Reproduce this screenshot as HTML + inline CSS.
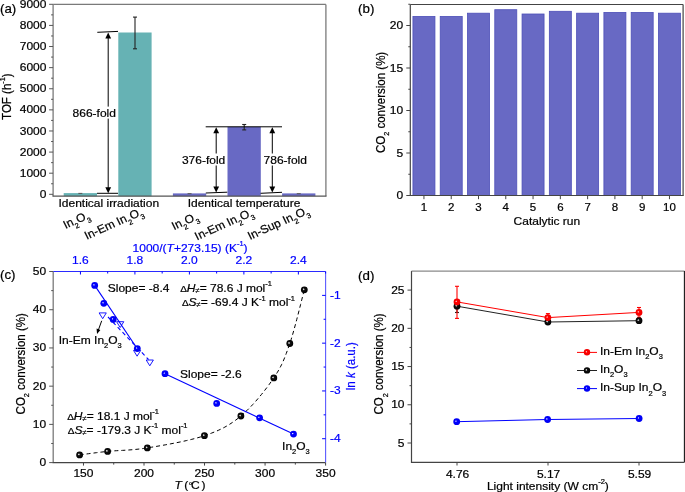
<!DOCTYPE html><html><head><meta charset="utf-8"><style>html,body{margin:0;padding:0;background:#fff;}svg{display:block;filter:blur(0.35px);}text{font-family:"Liberation Sans",sans-serif;}</style></head><body>
<svg width="685" height="492" viewBox="0 0 685 492">
<defs>
<radialGradient id="gk" cx="0.5" cy="0.5" r="0.5" fx="0.36" fy="0.4"><stop offset="0" stop-color="#ffffff"/><stop offset="0.14" stop-color="#bbbbbb"/><stop offset="0.36" stop-color="#111"/><stop offset="1" stop-color="#000"/></radialGradient>
<radialGradient id="gb" cx="0.5" cy="0.5" r="0.5" fx="0.36" fy="0.4"><stop offset="0" stop-color="#f0f0ff"/><stop offset="0.12" stop-color="#a0a0ff"/><stop offset="0.32" stop-color="#0000ff"/><stop offset="1" stop-color="#0000f0"/></radialGradient>
<radialGradient id="gr" cx="0.5" cy="0.5" r="0.5" fx="0.36" fy="0.4"><stop offset="0" stop-color="#fff0f0"/><stop offset="0.12" stop-color="#ffa0a0"/><stop offset="0.32" stop-color="#ff0000"/><stop offset="1" stop-color="#f00000"/></radialGradient>
</defs>
<rect x="0" y="0" width="685" height="492" fill="#fff"/>
<rect x="63.70" y="193.10" width="33.30" height="3.10" fill="#66b2b4" />
<rect x="118.30" y="32.50" width="33.30" height="163.70" fill="#66b2b4" />
<rect x="172.90" y="193.40" width="33.30" height="2.80" fill="#6869c4" />
<rect x="227.50" y="126.80" width="33.30" height="69.40" fill="#6869c4" />
<rect x="282.10" y="193.40" width="33.30" height="2.80" fill="#6869c4" />
<line x1="78.35" y1="193.40" x2="82.35" y2="193.40" stroke="#555" stroke-width="1" />
<line x1="187.55" y1="193.70" x2="191.55" y2="193.70" stroke="#555" stroke-width="1" />
<line x1="296.75" y1="193.70" x2="300.75" y2="193.70" stroke="#555" stroke-width="1" />
<line x1="135.00" y1="17.10" x2="135.00" y2="48.80" stroke="#222" stroke-width="1.1" />
<line x1="133.00" y1="17.10" x2="137.00" y2="17.10" stroke="#222" stroke-width="1.1" />
<line x1="133.00" y1="48.80" x2="137.00" y2="48.80" stroke="#222" stroke-width="1.1" />
<line x1="244.20" y1="124.50" x2="244.20" y2="129.90" stroke="#222" stroke-width="1.1" />
<line x1="242.20" y1="124.50" x2="246.20" y2="124.50" stroke="#222" stroke-width="1.1" />
<line x1="242.20" y1="129.90" x2="246.20" y2="129.90" stroke="#222" stroke-width="1.1" />
<line x1="97.00" y1="193.30" x2="118.00" y2="193.30" stroke="#000" stroke-width="1" />
<line x1="97.30" y1="32.30" x2="118.00" y2="31.40" stroke="#000" stroke-width="1" />
<line x1="205.80" y1="193.00" x2="227.30" y2="192.20" stroke="#000" stroke-width="1" />
<line x1="260.60" y1="193.30" x2="282.00" y2="192.30" stroke="#000" stroke-width="1" />
<line x1="205.70" y1="126.80" x2="282.00" y2="126.80" stroke="#000" stroke-width="1" />
<line x1="108.20" y1="37.40" x2="108.20" y2="188.20" stroke="#000" stroke-width="1" />
<path d="M108.20,32.40 L105.30,38.40 L111.10,38.40 Z" fill="#000"/>
<path d="M108.20,193.20 L105.30,187.20 L111.10,187.20 Z" fill="#000"/>
<line x1="216.20" y1="132.20" x2="216.20" y2="187.40" stroke="#000" stroke-width="1" />
<path d="M216.20,127.20 L213.30,133.20 L219.10,133.20 Z" fill="#000"/>
<path d="M216.20,192.40 L213.30,186.40 L219.10,186.40 Z" fill="#000"/>
<line x1="272.30" y1="132.20" x2="272.30" y2="187.40" stroke="#000" stroke-width="1" />
<path d="M272.30,127.20 L269.40,133.20 L275.20,133.20 Z" fill="#000"/>
<path d="M272.30,192.40 L269.40,186.40 L275.20,186.40 Z" fill="#000"/>
<rect x="71.60" y="106.60" width="45.36" height="12.00" fill="#fff" />
<g transform="matrix(1 0 0 0.96 0 4.672)"><text stroke="#000" stroke-width="0.22" x="72.60" y="116.80" font-size="12" text-anchor="start" fill="#000" >866-fold</text></g>
<rect x="180.90" y="153.50" width="45.36" height="12.00" fill="#fff" />
<g transform="matrix(1 0 0 0.96 0 6.548)"><text stroke="#000" stroke-width="0.22" x="181.90" y="163.70" font-size="12" text-anchor="start" fill="#000" >376-fold</text></g>
<rect x="262.60" y="153.50" width="45.36" height="12.00" fill="#fff" />
<g transform="matrix(1 0 0 0.96 0 6.548)"><text stroke="#000" stroke-width="0.22" x="263.60" y="163.70" font-size="12" text-anchor="start" fill="#000" >786-fold</text></g>
<line x1="53.10" y1="4.40" x2="325.90" y2="4.40" stroke="#7a7a7a" stroke-width="1.3" />
<line x1="325.90" y1="4.40" x2="325.90" y2="196.20" stroke="#7a7a7a" stroke-width="1.3" />
<line x1="53.10" y1="4.40" x2="53.10" y2="196.20" stroke="#7a7a7a" stroke-width="1.3" />
<line x1="52.50" y1="196.20" x2="326.50" y2="196.20" stroke="#555" stroke-width="1.2" />
<line x1="49.10" y1="194.30" x2="53.10" y2="194.30" stroke="#555" stroke-width="1" />
<g transform="matrix(1 0 0 0.96 0 7.916)"><text stroke="#000" stroke-width="0.22" x="46.40" y="197.90" font-size="12" text-anchor="end" fill="#000" >0</text></g>
<line x1="49.10" y1="173.19" x2="53.10" y2="173.19" stroke="#555" stroke-width="1" />
<g transform="matrix(1 0 0 0.96 0 7.072)"><text stroke="#000" stroke-width="0.22" x="46.40" y="176.79" font-size="12" text-anchor="end" fill="#000" >1000</text></g>
<line x1="49.10" y1="152.08" x2="53.10" y2="152.08" stroke="#555" stroke-width="1" />
<g transform="matrix(1 0 0 0.96 0 6.227)"><text stroke="#000" stroke-width="0.22" x="46.40" y="155.68" font-size="12" text-anchor="end" fill="#000" >2000</text></g>
<line x1="49.10" y1="130.97" x2="53.10" y2="130.97" stroke="#555" stroke-width="1" />
<g transform="matrix(1 0 0 0.96 0 5.383)"><text stroke="#000" stroke-width="0.22" x="46.40" y="134.57" font-size="12" text-anchor="end" fill="#000" >3000</text></g>
<line x1="49.10" y1="109.86" x2="53.10" y2="109.86" stroke="#555" stroke-width="1" />
<g transform="matrix(1 0 0 0.96 0 4.538)"><text stroke="#000" stroke-width="0.22" x="46.40" y="113.46" font-size="12" text-anchor="end" fill="#000" >4000</text></g>
<line x1="49.10" y1="88.75" x2="53.10" y2="88.75" stroke="#555" stroke-width="1" />
<g transform="matrix(1 0 0 0.96 0 3.694)"><text stroke="#000" stroke-width="0.22" x="46.40" y="92.35" font-size="12" text-anchor="end" fill="#000" >5000</text></g>
<line x1="49.10" y1="67.64" x2="53.10" y2="67.64" stroke="#555" stroke-width="1" />
<g transform="matrix(1 0 0 0.96 0 2.850)"><text stroke="#000" stroke-width="0.22" x="46.40" y="71.24" font-size="12" text-anchor="end" fill="#000" >6000</text></g>
<line x1="49.10" y1="46.53" x2="53.10" y2="46.53" stroke="#555" stroke-width="1" />
<g transform="matrix(1 0 0 0.96 0 2.005)"><text stroke="#000" stroke-width="0.22" x="46.40" y="50.13" font-size="12" text-anchor="end" fill="#000" >7000</text></g>
<line x1="49.10" y1="25.42" x2="53.10" y2="25.42" stroke="#555" stroke-width="1" />
<g transform="matrix(1 0 0 0.96 0 1.161)"><text stroke="#000" stroke-width="0.22" x="46.40" y="29.02" font-size="12" text-anchor="end" fill="#000" >8000</text></g>
<line x1="49.10" y1="4.31" x2="53.10" y2="4.31" stroke="#555" stroke-width="1" />
<g transform="matrix(1 0 0 0.96 0 0.316)"><text stroke="#000" stroke-width="0.22" x="46.40" y="7.91" font-size="12" text-anchor="end" fill="#000" >9000</text></g>
<line x1="51.10" y1="183.75" x2="53.10" y2="183.75" stroke="#555" stroke-width="1" />
<line x1="51.10" y1="162.64" x2="53.10" y2="162.64" stroke="#555" stroke-width="1" />
<line x1="51.10" y1="141.53" x2="53.10" y2="141.53" stroke="#555" stroke-width="1" />
<line x1="51.10" y1="120.42" x2="53.10" y2="120.42" stroke="#555" stroke-width="1" />
<line x1="51.10" y1="99.31" x2="53.10" y2="99.31" stroke="#555" stroke-width="1" />
<line x1="51.10" y1="78.20" x2="53.10" y2="78.20" stroke="#555" stroke-width="1" />
<line x1="51.10" y1="57.09" x2="53.10" y2="57.09" stroke="#555" stroke-width="1" />
<line x1="51.10" y1="35.98" x2="53.10" y2="35.98" stroke="#555" stroke-width="1" />
<line x1="51.10" y1="14.87" x2="53.10" y2="14.87" stroke="#555" stroke-width="1" />
<g transform="matrix(1 0 0 0.96 0 8.268)"><text stroke="#000" stroke-width="0.22" x="108.80" y="206.70" font-size="12" text-anchor="middle" fill="#000" >Identical irradiation</text></g>
<g transform="matrix(1 0 0 0.96 0 8.276)"><text stroke="#000" stroke-width="0.22" x="244.00" y="206.90" font-size="12" text-anchor="middle" fill="#000" >Identical temperature</text></g>
<g transform="matrix(1 0 0 0.96 0 8.708)"><text stroke="#000" stroke-width="0.22" x="90.50" y="217.70" font-size="12" text-anchor="end" transform="rotate(-25 90.50 217.70)">In<tspan font-size="7.5" dy="4.5">2</tspan><tspan dy="-4.5">O</tspan><tspan font-size="7.5" dy="4.5">3</tspan></text></g>
<g transform="matrix(1 0 0 0.96 0 8.568)"><text stroke="#000" stroke-width="0.22" x="143.90" y="214.20" font-size="12" text-anchor="end" transform="rotate(-25 143.90 214.20)">In-Em In<tspan font-size="7.5" dy="4.5">2</tspan><tspan dy="-4.5">O</tspan><tspan font-size="7.5" dy="4.5">3</tspan></text></g>
<g transform="matrix(1 0 0 0.96 0 8.756)"><text stroke="#000" stroke-width="0.22" x="199.10" y="218.90" font-size="12" text-anchor="end" transform="rotate(-25 199.10 218.90)">In<tspan font-size="7.5" dy="4.5">2</tspan><tspan dy="-4.5">O</tspan><tspan font-size="7.5" dy="4.5">3</tspan></text></g>
<g transform="matrix(1 0 0 0.96 0 8.596)"><text stroke="#000" stroke-width="0.22" x="254.20" y="214.90" font-size="12" text-anchor="end" transform="rotate(-25 254.20 214.90)">In-Em In<tspan font-size="7.5" dy="4.5">2</tspan><tspan dy="-4.5">O</tspan><tspan font-size="7.5" dy="4.5">3</tspan></text></g>
<g transform="matrix(1 0 0 0.96 0 8.524)"><text stroke="#000" stroke-width="0.22" x="310.00" y="213.10" font-size="12" text-anchor="end" transform="rotate(-25 310.00 213.10)">In-Sup In<tspan font-size="7.5" dy="4.5">2</tspan><tspan dy="-4.5">O</tspan><tspan font-size="7.5" dy="4.5">3</tspan></text></g>
<g transform="matrix(1 0 0 0.96 0 3.868)"><text stroke="#000" stroke-width="0.22" x="11.4" y="96.7" font-size="12" text-anchor="middle" transform="rotate(-90 11.4 96.7)">TOF (h<tspan font-size="7.5" dy="-6">-1</tspan><tspan dy="6">)</tspan></text></g>
<text stroke="#000" stroke-width="0.22" x="0.00" y="13.20" font-size="13.3" text-anchor="start" fill="#000" class="pl">(a)</text>
<rect x="412.94" y="16.40" width="22.00" height="179.10" fill="#6869c4" stroke="#4d4fb8" stroke-width="0.8"/>
<rect x="440.22" y="16.40" width="22.00" height="179.10" fill="#6869c4" stroke="#4d4fb8" stroke-width="0.8"/>
<rect x="467.50" y="13.20" width="22.00" height="182.30" fill="#6869c4" stroke="#4d4fb8" stroke-width="0.8"/>
<rect x="494.78" y="9.70" width="22.00" height="185.80" fill="#6869c4" stroke="#4d4fb8" stroke-width="0.8"/>
<rect x="522.06" y="14.00" width="22.00" height="181.50" fill="#6869c4" stroke="#4d4fb8" stroke-width="0.8"/>
<rect x="549.34" y="11.30" width="22.00" height="184.20" fill="#6869c4" stroke="#4d4fb8" stroke-width="0.8"/>
<rect x="576.62" y="13.20" width="22.00" height="182.30" fill="#6869c4" stroke="#4d4fb8" stroke-width="0.8"/>
<rect x="603.90" y="12.40" width="22.00" height="183.10" fill="#6869c4" stroke="#4d4fb8" stroke-width="0.8"/>
<rect x="631.18" y="12.40" width="22.00" height="183.10" fill="#6869c4" stroke="#4d4fb8" stroke-width="0.8"/>
<rect x="658.46" y="13.20" width="22.00" height="182.30" fill="#6869c4" stroke="#4d4fb8" stroke-width="0.8"/>
<line x1="410.30" y1="4.50" x2="683.10" y2="4.50" stroke="#444" stroke-width="1.2" />
<line x1="683.10" y1="4.50" x2="683.10" y2="195.50" stroke="#444" stroke-width="1.2" />
<line x1="410.30" y1="4.50" x2="410.30" y2="195.50" stroke="#444" stroke-width="1.2" />
<line x1="409.70" y1="195.50" x2="683.70" y2="195.50" stroke="#444" stroke-width="1.2" />
<line x1="406.30" y1="195.50" x2="410.30" y2="195.50" stroke="#444" stroke-width="1" />
<g transform="matrix(1 0 0 0.96 0 7.972)"><text stroke="#000" stroke-width="0.22" x="403.20" y="199.30" font-size="12" text-anchor="end" fill="#000" >0</text></g>
<line x1="406.30" y1="153.00" x2="410.30" y2="153.00" stroke="#444" stroke-width="1" />
<g transform="matrix(1 0 0 0.96 0 6.272)"><text stroke="#000" stroke-width="0.22" x="403.20" y="156.80" font-size="12" text-anchor="end" fill="#000" >5</text></g>
<line x1="406.30" y1="110.50" x2="410.30" y2="110.50" stroke="#444" stroke-width="1" />
<g transform="matrix(1 0 0 0.96 0 4.572)"><text stroke="#000" stroke-width="0.22" x="403.20" y="114.30" font-size="12" text-anchor="end" fill="#000" >10</text></g>
<line x1="406.30" y1="68.00" x2="410.30" y2="68.00" stroke="#444" stroke-width="1" />
<g transform="matrix(1 0 0 0.96 0 2.872)"><text stroke="#000" stroke-width="0.22" x="403.20" y="71.80" font-size="12" text-anchor="end" fill="#000" >15</text></g>
<line x1="406.30" y1="25.50" x2="410.30" y2="25.50" stroke="#444" stroke-width="1" />
<g transform="matrix(1 0 0 0.96 0 1.172)"><text stroke="#000" stroke-width="0.22" x="403.20" y="29.30" font-size="12" text-anchor="end" fill="#000" >20</text></g>
<line x1="408.30" y1="174.25" x2="410.30" y2="174.25" stroke="#444" stroke-width="1" />
<line x1="408.30" y1="131.75" x2="410.30" y2="131.75" stroke="#444" stroke-width="1" />
<line x1="408.30" y1="89.25" x2="410.30" y2="89.25" stroke="#444" stroke-width="1" />
<line x1="408.30" y1="46.75" x2="410.30" y2="46.75" stroke="#444" stroke-width="1" />
<line x1="408.30" y1="4.25" x2="410.30" y2="4.25" stroke="#444" stroke-width="1" />
<line x1="423.94" y1="195.50" x2="423.94" y2="199.20" stroke="#444" stroke-width="1" />
<g transform="matrix(1 0 0 0.96 0 8.436)"><text stroke="#000" stroke-width="0.22" x="423.94" y="210.90" font-size="11.5" text-anchor="middle" fill="#000" >1</text></g>
<line x1="451.22" y1="195.50" x2="451.22" y2="199.20" stroke="#444" stroke-width="1" />
<g transform="matrix(1 0 0 0.96 0 8.436)"><text stroke="#000" stroke-width="0.22" x="451.22" y="210.90" font-size="11.5" text-anchor="middle" fill="#000" >2</text></g>
<line x1="478.50" y1="195.50" x2="478.50" y2="199.20" stroke="#444" stroke-width="1" />
<g transform="matrix(1 0 0 0.96 0 8.436)"><text stroke="#000" stroke-width="0.22" x="478.50" y="210.90" font-size="11.5" text-anchor="middle" fill="#000" >3</text></g>
<line x1="505.78" y1="195.50" x2="505.78" y2="199.20" stroke="#444" stroke-width="1" />
<g transform="matrix(1 0 0 0.96 0 8.436)"><text stroke="#000" stroke-width="0.22" x="505.78" y="210.90" font-size="11.5" text-anchor="middle" fill="#000" >4</text></g>
<line x1="533.06" y1="195.50" x2="533.06" y2="199.20" stroke="#444" stroke-width="1" />
<g transform="matrix(1 0 0 0.96 0 8.436)"><text stroke="#000" stroke-width="0.22" x="533.06" y="210.90" font-size="11.5" text-anchor="middle" fill="#000" >5</text></g>
<line x1="560.34" y1="195.50" x2="560.34" y2="199.20" stroke="#444" stroke-width="1" />
<g transform="matrix(1 0 0 0.96 0 8.436)"><text stroke="#000" stroke-width="0.22" x="560.34" y="210.90" font-size="11.5" text-anchor="middle" fill="#000" >6</text></g>
<line x1="587.62" y1="195.50" x2="587.62" y2="199.20" stroke="#444" stroke-width="1" />
<g transform="matrix(1 0 0 0.96 0 8.436)"><text stroke="#000" stroke-width="0.22" x="587.62" y="210.90" font-size="11.5" text-anchor="middle" fill="#000" >7</text></g>
<line x1="614.90" y1="195.50" x2="614.90" y2="199.20" stroke="#444" stroke-width="1" />
<g transform="matrix(1 0 0 0.96 0 8.436)"><text stroke="#000" stroke-width="0.22" x="614.90" y="210.90" font-size="11.5" text-anchor="middle" fill="#000" >8</text></g>
<line x1="642.18" y1="195.50" x2="642.18" y2="199.20" stroke="#444" stroke-width="1" />
<g transform="matrix(1 0 0 0.96 0 8.436)"><text stroke="#000" stroke-width="0.22" x="642.18" y="210.90" font-size="11.5" text-anchor="middle" fill="#000" >9</text></g>
<line x1="669.46" y1="195.50" x2="669.46" y2="199.20" stroke="#444" stroke-width="1" />
<g transform="matrix(1 0 0 0.96 0 8.436)"><text stroke="#000" stroke-width="0.22" x="669.46" y="210.90" font-size="11.5" text-anchor="middle" fill="#000" >10</text></g>
<g transform="matrix(1 0 0 0.96 0 8.988)"><text stroke="#000" stroke-width="0.22" x="546.90" y="224.70" font-size="12" text-anchor="middle" fill="#000" >Catalytic run</text></g>
<g transform="matrix(1 0 0 0.96 0 4.096)"><text stroke="#000" stroke-width="0.22" x="384.7" y="102.4" font-size="12" text-anchor="middle" transform="rotate(-90 384.7 102.4)">CO<tspan font-size="7.5" dy="4.5">2</tspan><tspan dy="-4.5"> conversion (%)</tspan></text></g>
<text stroke="#000" stroke-width="0.22" x="358.10" y="13.00" font-size="13.3" text-anchor="start" fill="#000" class="pl">(b)</text>
<line x1="53.20" y1="271.50" x2="53.20" y2="462.60" stroke="#7a7a7a" stroke-width="1.3" />
<line x1="52.60" y1="462.60" x2="325.60" y2="462.60" stroke="#444" stroke-width="1.2" />
<line x1="53.20" y1="271.50" x2="325.60" y2="271.50" stroke="#2a2aff" stroke-width="1.1" />
<line x1="325.60" y1="271.50" x2="325.60" y2="462.60" stroke="#5a5aff" stroke-width="1.1" />
<line x1="49.20" y1="462.60" x2="53.20" y2="462.60" stroke="#555" stroke-width="1" />
<g transform="matrix(1 0 0 0.96 0 18.640)"><text stroke="#000" stroke-width="0.22" x="46.20" y="466.00" font-size="12" text-anchor="end" fill="#000" >0</text></g>
<line x1="49.20" y1="424.38" x2="53.20" y2="424.38" stroke="#555" stroke-width="1" />
<g transform="matrix(1 0 0 0.96 0 17.111)"><text stroke="#000" stroke-width="0.22" x="46.20" y="427.78" font-size="12" text-anchor="end" fill="#000" >10</text></g>
<line x1="49.20" y1="386.16" x2="53.20" y2="386.16" stroke="#555" stroke-width="1" />
<g transform="matrix(1 0 0 0.96 0 15.582)"><text stroke="#000" stroke-width="0.22" x="46.20" y="389.56" font-size="12" text-anchor="end" fill="#000" >20</text></g>
<line x1="49.20" y1="347.94" x2="53.20" y2="347.94" stroke="#555" stroke-width="1" />
<g transform="matrix(1 0 0 0.96 0 14.054)"><text stroke="#000" stroke-width="0.22" x="46.20" y="351.34" font-size="12" text-anchor="end" fill="#000" >30</text></g>
<line x1="49.20" y1="309.72" x2="53.20" y2="309.72" stroke="#555" stroke-width="1" />
<g transform="matrix(1 0 0 0.96 0 12.525)"><text stroke="#000" stroke-width="0.22" x="46.20" y="313.12" font-size="12" text-anchor="end" fill="#000" >40</text></g>
<line x1="49.20" y1="271.50" x2="53.20" y2="271.50" stroke="#555" stroke-width="1" />
<g transform="matrix(1 0 0 0.96 0 10.996)"><text stroke="#000" stroke-width="0.22" x="46.20" y="274.90" font-size="12" text-anchor="end" fill="#000" >50</text></g>
<line x1="51.20" y1="443.49" x2="53.20" y2="443.49" stroke="#555" stroke-width="1" />
<line x1="51.20" y1="405.27" x2="53.20" y2="405.27" stroke="#555" stroke-width="1" />
<line x1="51.20" y1="367.05" x2="53.20" y2="367.05" stroke="#555" stroke-width="1" />
<line x1="51.20" y1="328.83" x2="53.20" y2="328.83" stroke="#555" stroke-width="1" />
<line x1="51.20" y1="290.61" x2="53.20" y2="290.61" stroke="#555" stroke-width="1" />
<line x1="83.47" y1="462.60" x2="83.47" y2="465.60" stroke="#444" stroke-width="1" />
<g transform="matrix(1 0 0 0.96 0 19.100)"><text stroke="#000" stroke-width="0.22" x="83.47" y="477.50" font-size="12" text-anchor="middle" fill="#000" >150</text></g>
<line x1="144.00" y1="462.60" x2="144.00" y2="465.60" stroke="#444" stroke-width="1" />
<g transform="matrix(1 0 0 0.96 0 19.100)"><text stroke="#000" stroke-width="0.22" x="144.00" y="477.50" font-size="12" text-anchor="middle" fill="#000" >200</text></g>
<line x1="204.53" y1="462.60" x2="204.53" y2="465.60" stroke="#444" stroke-width="1" />
<g transform="matrix(1 0 0 0.96 0 19.100)"><text stroke="#000" stroke-width="0.22" x="204.53" y="477.50" font-size="12" text-anchor="middle" fill="#000" >250</text></g>
<line x1="265.07" y1="462.60" x2="265.07" y2="465.60" stroke="#444" stroke-width="1" />
<g transform="matrix(1 0 0 0.96 0 19.100)"><text stroke="#000" stroke-width="0.22" x="265.07" y="477.50" font-size="12" text-anchor="middle" fill="#000" >300</text></g>
<line x1="325.60" y1="462.60" x2="325.60" y2="465.60" stroke="#444" stroke-width="1" />
<g transform="matrix(1 0 0 0.96 0 19.100)"><text stroke="#000" stroke-width="0.22" x="325.60" y="477.50" font-size="12" text-anchor="middle" fill="#000" >350</text></g>
<line x1="113.73" y1="462.60" x2="113.73" y2="464.60" stroke="#444" stroke-width="1" />
<line x1="174.27" y1="462.60" x2="174.27" y2="464.60" stroke="#444" stroke-width="1" />
<line x1="234.80" y1="462.60" x2="234.80" y2="464.60" stroke="#444" stroke-width="1" />
<line x1="295.33" y1="462.60" x2="295.33" y2="464.60" stroke="#444" stroke-width="1" />
<line x1="80.44" y1="271.50" x2="80.44" y2="274.50" stroke="#0000ff" stroke-width="1" />
<g transform="matrix(1 0 0 0.96 0 10.580)"><text stroke="#0000ff" stroke-width="0.22" x="80.44" y="264.50" font-size="12" text-anchor="middle" fill="#0000ff" >1.6</text></g>
<line x1="134.92" y1="271.50" x2="134.92" y2="274.50" stroke="#0000ff" stroke-width="1" />
<g transform="matrix(1 0 0 0.96 0 10.580)"><text stroke="#0000ff" stroke-width="0.22" x="134.92" y="264.50" font-size="12" text-anchor="middle" fill="#0000ff" >1.8</text></g>
<line x1="189.40" y1="271.50" x2="189.40" y2="274.50" stroke="#0000ff" stroke-width="1" />
<g transform="matrix(1 0 0 0.96 0 10.580)"><text stroke="#0000ff" stroke-width="0.22" x="189.40" y="264.50" font-size="12" text-anchor="middle" fill="#0000ff" >2.0</text></g>
<line x1="243.88" y1="271.50" x2="243.88" y2="274.50" stroke="#0000ff" stroke-width="1" />
<g transform="matrix(1 0 0 0.96 0 10.580)"><text stroke="#0000ff" stroke-width="0.22" x="243.88" y="264.50" font-size="12" text-anchor="middle" fill="#0000ff" >2.2</text></g>
<line x1="298.36" y1="271.50" x2="298.36" y2="274.50" stroke="#0000ff" stroke-width="1" />
<g transform="matrix(1 0 0 0.96 0 10.580)"><text stroke="#0000ff" stroke-width="0.22" x="298.36" y="264.50" font-size="12" text-anchor="middle" fill="#0000ff" >2.4</text></g>
<line x1="107.68" y1="271.50" x2="107.68" y2="273.50" stroke="#0000ff" stroke-width="1" />
<line x1="162.16" y1="271.50" x2="162.16" y2="273.50" stroke="#0000ff" stroke-width="1" />
<line x1="216.64" y1="271.50" x2="216.64" y2="273.50" stroke="#0000ff" stroke-width="1" />
<line x1="271.12" y1="271.50" x2="271.12" y2="273.50" stroke="#0000ff" stroke-width="1" />
<line x1="325.60" y1="271.50" x2="325.60" y2="273.50" stroke="#0000ff" stroke-width="1" />
<line x1="322.10" y1="295.39" x2="325.60" y2="295.39" stroke="#0000ff" stroke-width="1" />
<g transform="matrix(1 0 0 0.96 0 11.956)"><text stroke="#0000ff" stroke-width="0.22" x="330.00" y="298.89" font-size="12" text-anchor="start" fill="#0000ff" >-1</text></g>
<line x1="322.10" y1="343.16" x2="325.60" y2="343.16" stroke="#0000ff" stroke-width="1" />
<g transform="matrix(1 0 0 0.96 0 13.866)"><text stroke="#0000ff" stroke-width="0.22" x="330.00" y="346.66" font-size="12" text-anchor="start" fill="#0000ff" >-2</text></g>
<line x1="322.10" y1="390.94" x2="325.60" y2="390.94" stroke="#0000ff" stroke-width="1" />
<g transform="matrix(1 0 0 0.96 0 15.778)"><text stroke="#0000ff" stroke-width="0.22" x="330.00" y="394.44" font-size="12" text-anchor="start" fill="#0000ff" >-3</text></g>
<line x1="322.10" y1="438.71" x2="325.60" y2="438.71" stroke="#0000ff" stroke-width="1" />
<g transform="matrix(1 0 0 0.96 0 17.688)"><text stroke="#0000ff" stroke-width="0.22" x="330.00" y="442.21" font-size="12" text-anchor="start" fill="#0000ff" >-4</text></g>
<line x1="323.60" y1="319.27" x2="325.60" y2="319.27" stroke="#0000ff" stroke-width="1" />
<line x1="323.60" y1="367.05" x2="325.60" y2="367.05" stroke="#0000ff" stroke-width="1" />
<line x1="323.60" y1="414.83" x2="325.60" y2="414.83" stroke="#0000ff" stroke-width="1" />
<g transform="matrix(1 0 0 0.96 0 10.080)"><text stroke="#0000ff" stroke-width="0.22" x="132.6" y="252" font-size="12" fill="#0000ff">1000/(<tspan font-style="italic">T</tspan>+273.15) (K<tspan font-size="7.5" dy="-6">-1</tspan><tspan dy="6">)</tspan></text></g>
<g transform="matrix(1 0 0 0.96 0 14.648)"><text stroke="#0000ff" stroke-width="0.22" x="355.3" y="366.2" font-size="12" fill="#0000ff" text-anchor="middle" transform="rotate(-90 355.3 366.2)">ln <tspan font-style="italic">k</tspan> (a.u.)</text></g>
<g transform="matrix(1 0 0 0.96 0 14.552)"><text stroke="#000" stroke-width="0.22" x="25" y="363.8" font-size="12" text-anchor="middle" transform="rotate(-90 25 363.8)">CO<tspan font-size="7.5" dy="4.5">2</tspan><tspan dy="-4.5"> conversion (%)</tspan></text></g>
<g transform="matrix(1 0 0 0.96 0 19.560)"><text stroke="#000" stroke-width="0.22" x="174.4" y="489" font-size="12"><tspan font-style="italic">T</tspan><tspan dx="-0.8"> (</tspan><tspan font-size="10" dx="0.3">°</tspan><tspan dx="-1.6">C</tspan><tspan dx="1.8">)</tspan></text></g>
<text stroke="#000" stroke-width="0.22" x="0.00" y="278.80" font-size="13.3" text-anchor="start" fill="#000" class="pl">(c)</text>
<path d="M79.60,454.90 L80.92,454.73 L82.51,454.52 L84.36,454.27 L86.43,453.99 L88.69,453.69 L91.12,453.37 L93.69,453.04 L96.36,452.70 L99.12,452.36 L101.93,452.02 L104.77,451.70 L107.60,451.40 L110.44,451.14 L113.34,450.92 L116.29,450.73 L119.32,450.56 L122.43,450.38 L125.63,450.19 L128.93,449.98 L132.34,449.71 L135.88,449.39 L139.54,448.99 L143.35,448.50 L147.30,447.90 L151.51,447.21 L156.05,446.46 L160.83,445.64 L165.81,444.76 L170.90,443.81 L176.05,442.81 L181.19,441.76 L186.25,440.64 L191.17,439.48 L195.87,438.27 L200.31,437.01 L204.40,435.70 L208.17,434.38 L211.72,433.06 L215.06,431.73 L218.23,430.37 L221.25,428.96 L224.16,427.47 L226.99,425.89 L229.76,424.21 L232.51,422.39 L235.26,420.43 L238.05,418.31 L240.90,416.00 L243.82,413.46 L246.79,410.67 L249.77,407.68 L252.76,404.53 L255.72,401.24 L258.63,397.87 L261.47,394.44 L264.22,391.01 L266.85,387.60 L269.34,384.25 L271.66,381.00 L273.80,377.90 L275.73,374.97 L277.46,372.18 L279.02,369.49 L280.44,366.87 L281.74,364.28 L282.95,361.67 L284.10,359.01 L285.20,356.26 L286.30,353.37 L287.42,350.31 L288.57,347.03 L289.80,343.50 L291.11,339.53 L292.47,335.05 L293.87,330.17 L295.28,325.04 L296.68,319.77 L298.05,314.50 L299.36,309.35 L300.60,304.44 L301.73,299.90 L302.74,295.87 L303.60,292.46 L304.30,289.80" fill="none" stroke="#000" stroke-width="1" stroke-dasharray="4,3"/>
<circle cx="79.60" cy="454.90" r="3.4" fill="url(#gk)"/>
<circle cx="107.60" cy="451.40" r="3.4" fill="url(#gk)"/>
<circle cx="147.30" cy="447.90" r="3.4" fill="url(#gk)"/>
<circle cx="204.40" cy="435.70" r="3.4" fill="url(#gk)"/>
<circle cx="240.90" cy="416.00" r="3.4" fill="url(#gk)"/>
<circle cx="273.80" cy="377.90" r="3.4" fill="url(#gk)"/>
<circle cx="289.80" cy="343.50" r="3.4" fill="url(#gk)"/>
<circle cx="304.30" cy="289.80" r="3.4" fill="url(#gk)"/>
<line x1="93.50" y1="283.60" x2="138.30" y2="350.30" stroke="#0000ff" stroke-width="1.1" />
<line x1="108.00" y1="317.00" x2="148.50" y2="359.50" stroke="#0000ff" stroke-width="1.1" stroke-dasharray="4,3"/>
<path d="M99.10,312.90 L106.30,312.90 L102.70,318.70 Z" fill="none" stroke="#0000ff" stroke-width="0.9"/>
<path d="M116.60,321.70 L123.80,321.70 L120.20,327.50 Z" fill="none" stroke="#0000ff" stroke-width="0.9"/>
<path d="M133.50,350.40 L140.70,350.40 L137.10,356.20 Z" fill="none" stroke="#0000ff" stroke-width="0.9"/>
<path d="M146.20,360.00 L153.40,360.00 L149.80,365.80 Z" fill="none" stroke="#0000ff" stroke-width="0.9"/>
<circle cx="94.70" cy="285.40" r="3.4" fill="url(#gb)"/>
<circle cx="103.80" cy="303.30" r="3.4" fill="url(#gb)"/>
<circle cx="113.20" cy="319.40" r="3.4" fill="url(#gb)"/>
<circle cx="137.30" cy="348.60" r="3.4" fill="url(#gb)"/>
<line x1="165.00" y1="373.70" x2="293.50" y2="434.10" stroke="#0000ff" stroke-width="1.1" />
<circle cx="165.00" cy="373.70" r="3.4" fill="url(#gb)"/>
<circle cx="216.70" cy="403.40" r="3.4" fill="url(#gb)"/>
<circle cx="259.60" cy="417.80" r="3.4" fill="url(#gb)"/>
<circle cx="293.50" cy="434.10" r="3.4" fill="url(#gb)"/>
<line x1="101.70" y1="320.80" x2="98.20" y2="330.50" stroke="#000" stroke-width="1" />
<path d="M97,334 L96.6,328.6 L100.4,330 Z" fill="#000"/>
<g transform="matrix(1 0 0 0.96 0 11.664)"><text stroke="#000" stroke-width="0.22" x="107.80" y="291.60" font-size="12" text-anchor="start" fill="#000" >Slope= -8.4</text></g>
<g transform="matrix(1 0 0 0.96 0 15.112)"><text stroke="#000" stroke-width="0.22" x="180.00" y="377.80" font-size="12" text-anchor="start" fill="#000" >Slope= -2.6</text></g>
<g transform="matrix(1 0 0 0.96 0 11.672)"><text stroke="#000" stroke-width="0.22" x="180.20" y="291.80" font-size="12"><tspan font-size="10">Δ</tspan><tspan font-style="italic">H</tspan><tspan font-size="7.5" dy="1">≠</tspan><tspan dy="-1">= 78.6 J mol<tspan font-size="7.5" dy="-6">-1</tspan></tspan></text></g>
<g transform="matrix(1 0 0 0.96 0 12.260)"><text stroke="#000" stroke-width="0.22" x="181.9" y="306.5" font-size="12"><tspan font-size="10">Δ</tspan><tspan font-style="italic">S</tspan><tspan font-size="7.5" dy="1">≠</tspan><tspan dy="-1">= -69.4 J K</tspan><tspan font-size="7.5" dy="-6">-1</tspan><tspan dy="6"> mol</tspan><tspan font-size="7.5" dy="-6">-1</tspan></text></g>
<g transform="matrix(1 0 0 0.96 0 16.800)"><text stroke="#000" stroke-width="0.22" x="67.20" y="420.00" font-size="12"><tspan font-size="10">Δ</tspan><tspan font-style="italic">H</tspan><tspan font-size="7.5" dy="1">≠</tspan><tspan dy="-1">= 18.1 J mol<tspan font-size="7.5" dy="-6">-1</tspan></tspan></text></g>
<g transform="matrix(1 0 0 0.96 0 17.348)"><text stroke="#000" stroke-width="0.22" x="67.8" y="433.7" font-size="12"><tspan font-size="10">Δ</tspan><tspan font-style="italic">S</tspan><tspan font-size="7.5" dy="1">≠</tspan><tspan dy="-1">= -179.3 J K</tspan><tspan font-size="7.5" dy="-6">-1</tspan><tspan dy="6"> mol</tspan><tspan font-size="7.5" dy="-6">-1</tspan></text></g>
<g transform="matrix(1 0 0 0.96 0 13.744)"><text stroke="#000" stroke-width="0.22" x="58.8" y="343.6" font-size="12">In-Em In<tspan font-size="7.5" dy="4.5">2</tspan><tspan dy="-4.5">O</tspan><tspan font-size="7.5" dy="4.5">3</tspan></text></g>
<g transform="matrix(1 0 0 0.96 0 17.992)"><text stroke="#000" stroke-width="0.22" x="282.1" y="449.8" font-size="12">In<tspan font-size="7.5" dy="4.5">2</tspan><tspan dy="-4.5">O</tspan><tspan font-size="7.5" dy="4.5">3</tspan></text></g>
<line x1="411.50" y1="271.10" x2="684.50" y2="271.10" stroke="#8a8a8a" stroke-width="1.3" />
<line x1="684.50" y1="271.10" x2="684.50" y2="462.30" stroke="#222" stroke-width="1.3" />
<line x1="411.50" y1="271.10" x2="411.50" y2="462.30" stroke="#444" stroke-width="1.2" />
<line x1="410.90" y1="462.30" x2="684.50" y2="462.30" stroke="#444" stroke-width="1.2" />
<line x1="407.50" y1="443.00" x2="411.50" y2="443.00" stroke="#444" stroke-width="1" />
<g transform="matrix(1 0 0 0.96 0 17.868)"><text stroke="#000" stroke-width="0.22" x="404.50" y="446.70" font-size="12" text-anchor="end" fill="#000" >5</text></g>
<line x1="407.50" y1="404.78" x2="411.50" y2="404.78" stroke="#444" stroke-width="1" />
<g transform="matrix(1 0 0 0.96 0 16.339)"><text stroke="#000" stroke-width="0.22" x="404.50" y="408.48" font-size="12" text-anchor="end" fill="#000" >10</text></g>
<line x1="407.50" y1="366.55" x2="411.50" y2="366.55" stroke="#444" stroke-width="1" />
<g transform="matrix(1 0 0 0.96 0 14.810)"><text stroke="#000" stroke-width="0.22" x="404.50" y="370.25" font-size="12" text-anchor="end" fill="#000" >15</text></g>
<line x1="407.50" y1="328.33" x2="411.50" y2="328.33" stroke="#444" stroke-width="1" />
<g transform="matrix(1 0 0 0.96 0 13.281)"><text stroke="#000" stroke-width="0.22" x="404.50" y="332.03" font-size="12" text-anchor="end" fill="#000" >20</text></g>
<line x1="407.50" y1="290.10" x2="411.50" y2="290.10" stroke="#444" stroke-width="1" />
<g transform="matrix(1 0 0 0.96 0 11.752)"><text stroke="#000" stroke-width="0.22" x="404.50" y="293.80" font-size="12" text-anchor="end" fill="#000" >25</text></g>
<line x1="409.50" y1="423.89" x2="411.50" y2="423.89" stroke="#444" stroke-width="1" />
<line x1="409.50" y1="385.66" x2="411.50" y2="385.66" stroke="#444" stroke-width="1" />
<line x1="409.50" y1="347.44" x2="411.50" y2="347.44" stroke="#444" stroke-width="1" />
<line x1="409.50" y1="309.21" x2="411.50" y2="309.21" stroke="#444" stroke-width="1" />
<line x1="457.00" y1="462.30" x2="457.00" y2="465.50" stroke="#444" stroke-width="1" />
<g transform="matrix(1 0 0 0.96 0 19.112)"><text stroke="#000" stroke-width="0.22" x="457.60" y="477.80" font-size="12" text-anchor="middle" fill="#000" >4.76</text></g>
<line x1="548.00" y1="462.30" x2="548.00" y2="465.50" stroke="#444" stroke-width="1" />
<g transform="matrix(1 0 0 0.96 0 19.112)"><text stroke="#000" stroke-width="0.22" x="548.60" y="477.80" font-size="12" text-anchor="middle" fill="#000" >5.17</text></g>
<line x1="639.00" y1="462.30" x2="639.00" y2="465.50" stroke="#444" stroke-width="1" />
<g transform="matrix(1 0 0 0.96 0 19.112)"><text stroke="#000" stroke-width="0.22" x="639.60" y="477.80" font-size="12" text-anchor="middle" fill="#000" >5.59</text></g>
<g transform="matrix(1 0 0 0.96 0 19.600)"><text stroke="#000" stroke-width="0.22" x="486.9" y="490" font-size="12">Light intensity (W cm<tspan font-size="7.5" dy="-6">-2</tspan><tspan dy="6">)</tspan></text></g>
<g transform="matrix(1 0 0 0.96 0 14.560)"><text stroke="#000" stroke-width="0.22" x="383.1" y="364" font-size="12" text-anchor="middle" transform="rotate(-90 383.1 364)">CO<tspan font-size="7.5" dy="4.5">2</tspan><tspan dy="-4.5"> conversion (%)</tspan></text></g>
<text stroke="#000" stroke-width="0.22" x="358.10" y="280.30" font-size="13.3" text-anchor="start" fill="#000" class="pl">(d)</text>
<path d="M457.00,306.20 L547.90,322.00 L639.00,320.70" fill="none" stroke="#222" stroke-width="1"/>
<path d="M457.00,301.90 L547.90,317.60 L639.00,312.40" fill="none" stroke="#ff0000" stroke-width="1"/>
<path d="M456.70,421.70 L547.60,419.50 L639.10,418.50" fill="none" stroke="#0000ff" stroke-width="1"/>
<line x1="457.00" y1="299.90" x2="457.00" y2="312.50" stroke="#222" stroke-width="1.1" />
<line x1="455.00" y1="299.90" x2="459.00" y2="299.90" stroke="#222" stroke-width="1.1" />
<line x1="455.00" y1="312.50" x2="459.00" y2="312.50" stroke="#222" stroke-width="1.1" />
<line x1="547.90" y1="320.00" x2="547.90" y2="324.00" stroke="#222" stroke-width="1.1" />
<line x1="545.90" y1="320.00" x2="549.90" y2="320.00" stroke="#222" stroke-width="1.1" />
<line x1="545.90" y1="324.00" x2="549.90" y2="324.00" stroke="#222" stroke-width="1.1" />
<line x1="639.00" y1="318.70" x2="639.00" y2="322.70" stroke="#222" stroke-width="1.1" />
<line x1="637.00" y1="318.70" x2="641.00" y2="318.70" stroke="#222" stroke-width="1.1" />
<line x1="637.00" y1="322.70" x2="641.00" y2="322.70" stroke="#222" stroke-width="1.1" />
<line x1="457.00" y1="286.30" x2="457.00" y2="318.40" stroke="#ff0000" stroke-width="1.1" />
<line x1="455.00" y1="286.30" x2="459.00" y2="286.30" stroke="#ff0000" stroke-width="1.1" />
<line x1="455.00" y1="318.40" x2="459.00" y2="318.40" stroke="#ff0000" stroke-width="1.1" />
<line x1="547.90" y1="313.60" x2="547.90" y2="321.60" stroke="#ff0000" stroke-width="1.1" />
<line x1="545.90" y1="313.60" x2="549.90" y2="313.60" stroke="#ff0000" stroke-width="1.1" />
<line x1="545.90" y1="321.60" x2="549.90" y2="321.60" stroke="#ff0000" stroke-width="1.1" />
<line x1="639.00" y1="307.50" x2="639.00" y2="317.30" stroke="#ff0000" stroke-width="1.1" />
<line x1="637.00" y1="307.50" x2="641.00" y2="307.50" stroke="#ff0000" stroke-width="1.1" />
<line x1="637.00" y1="317.30" x2="641.00" y2="317.30" stroke="#ff0000" stroke-width="1.1" />
<circle cx="457.00" cy="306.20" r="3.4" fill="url(#gk)"/>
<circle cx="547.90" cy="322.00" r="3.4" fill="url(#gk)"/>
<circle cx="639.00" cy="320.70" r="3.4" fill="url(#gk)"/>
<circle cx="457.00" cy="301.90" r="3.4" fill="url(#gr)"/>
<circle cx="547.90" cy="317.60" r="3.4" fill="url(#gr)"/>
<circle cx="639.00" cy="312.40" r="3.4" fill="url(#gr)"/>
<circle cx="456.70" cy="421.70" r="3.4" fill="url(#gb)"/>
<circle cx="547.60" cy="419.50" r="3.4" fill="url(#gb)"/>
<circle cx="639.10" cy="418.50" r="3.4" fill="url(#gb)"/>
<line x1="577.00" y1="352.40" x2="597.00" y2="352.40" stroke="#ff0000" stroke-width="1" />
<circle cx="587.00" cy="352.30" r="3.2" fill="url(#gr)"/>
<g transform="matrix(1 0 0 0.96 0 14.200)"><text stroke="#000" stroke-width="0.22" x="599.9" y="355.00" font-size="12">In-Em In<tspan font-size="7.5" dy="4.5">2</tspan><tspan dy="-4.5">O</tspan><tspan font-size="7.5" dy="4.5">3</tspan></text></g>
<line x1="577.00" y1="370.50" x2="597.00" y2="370.50" stroke="#222" stroke-width="1" />
<circle cx="587.00" cy="370.40" r="3.2" fill="url(#gk)"/>
<g transform="matrix(1 0 0 0.96 0 14.924)"><text stroke="#000" stroke-width="0.22" x="599.9" y="373.10" font-size="12">In<tspan font-size="7.5" dy="4.5">2</tspan><tspan dy="-4.5">O</tspan><tspan font-size="7.5" dy="4.5">3</tspan></text></g>
<line x1="577.00" y1="388.60" x2="597.00" y2="388.60" stroke="#0000ff" stroke-width="1" />
<circle cx="587.00" cy="388.50" r="3.2" fill="url(#gb)"/>
<g transform="matrix(1 0 0 0.96 0 15.648)"><text stroke="#000" stroke-width="0.22" x="599.9" y="391.20" font-size="12">In-Sup In<tspan font-size="7.5" dy="4.5">2</tspan><tspan dy="-4.5">O</tspan><tspan font-size="7.5" dy="4.5">3</tspan></text></g>
</svg></body></html>
